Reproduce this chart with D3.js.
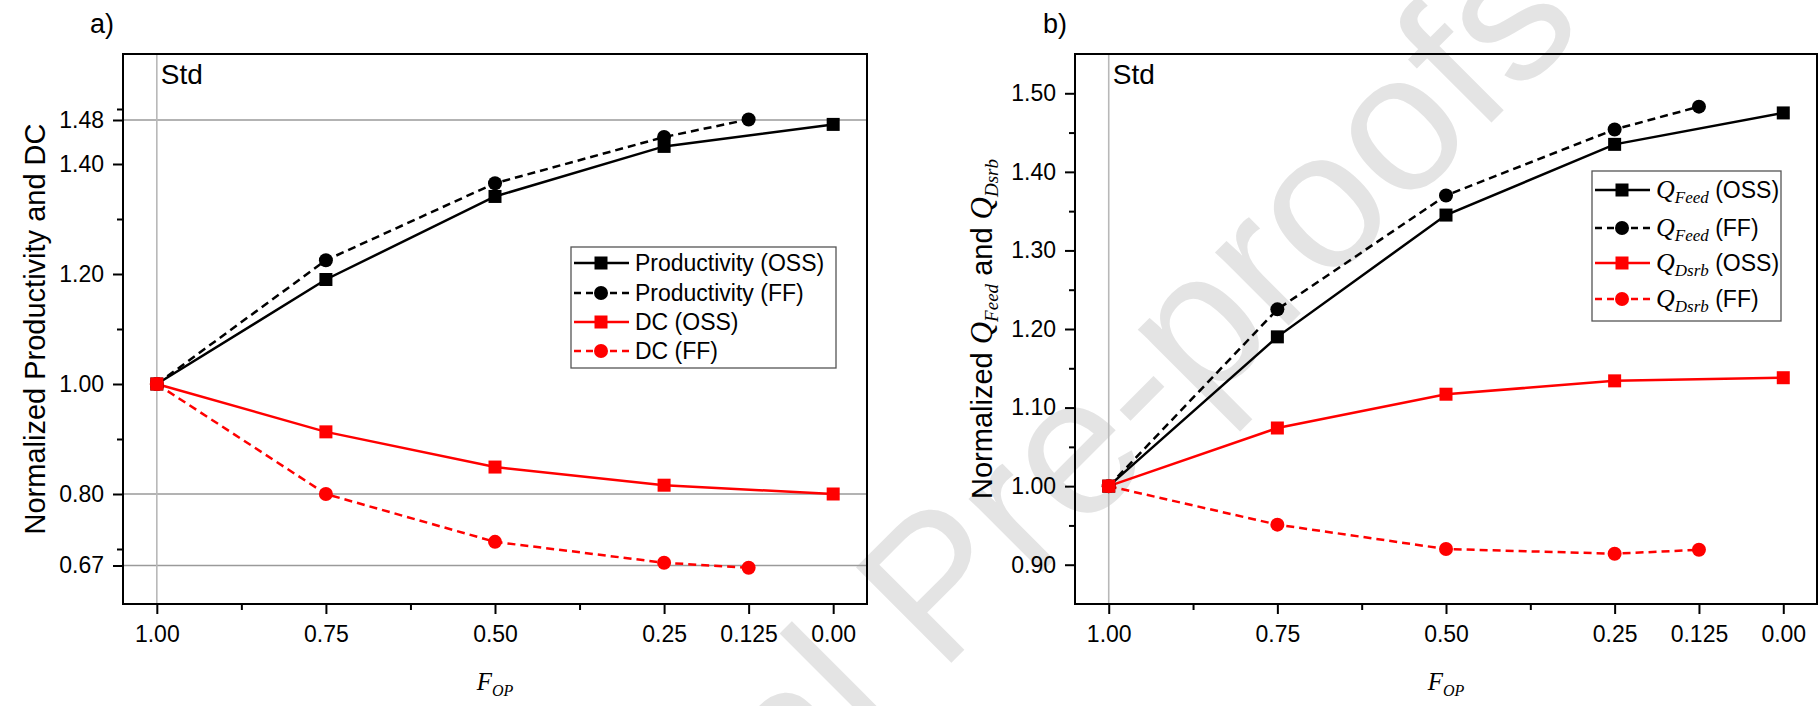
<!DOCTYPE html>
<html>
<head>
<meta charset="utf-8">
<script src="https://cdn.jsdelivr.net/npm/d3@7"></script>
<style>
  html, body { margin: 0; padding: 0; background: #fff; }
  svg { display: block; }
  text { font-family: "Liberation Sans", Arial, sans-serif; fill: #000; }
  .serif { font-family: "Liberation Serif", "Times New Roman", serif; font-style: italic; }
</style>
</head>
<body>
<svg id="chart" width="1818" height="706"></svg>
<script>
// ---- data ----
const fOpOSS = [1.00, 0.75, 0.50, 0.25, 0.00];
const fOpFF  = [1.00, 0.75, 0.50, 0.25, 0.125];

// panel a: normalized productivity and desorbent consumption
const prodOSS = [1.00, 1.190, 1.341, 1.432, 1.472];
const prodFF  = [1.00, 1.225, 1.365, 1.449, 1.481];
const dcOSS   = [1.00, 0.913, 0.849, 0.816, 0.800];
const dcFF    = [1.00, 0.800, 0.713, 0.675, 0.666];

// panel b: normalized feed and desorbent flow rates
const feedOSS = [1.00, 1.190, 1.345, 1.435, 1.475];
const feedFF  = [1.00, 1.225, 1.370, 1.454, 1.483];
const dsrbOSS = [1.00, 1.074, 1.117, 1.134, 1.138];
const dsrbFF  = [1.00, 0.951, 0.920, 0.914, 0.919];

// axis ticks
const xMajor = [1.00, 0.75, 0.50, 0.25, 0.125, 0.00];
const xTickLabels = ["1.00", "0.75", "0.50", "0.25", "0.125", "0.00"];
const xMinor = [0.875, 0.625, 0.375];
const yMajorA = [0.67, 0.80, 1.00, 1.20, 1.40, 1.48];
const yMinorA = [0.70, 0.90, 1.10, 1.30, 1.50];
const yGridA = [0.67, 0.80, 1.48];
const yMajorB = [0.90, 1.00, 1.10, 1.20, 1.30, 1.40, 1.50];
const yMinorB = [0.95, 1.05, 1.15, 1.25, 1.35, 1.45];

const RED = "#ff0000", BLACK = "#000000";
const svg = d3.select("#chart");

// ---- background watermark ----
svg.append("text")
  .attr("transform", "translate(447,1167) rotate(-45)")
  .style("font-size", "196px")
  .style("fill", "#e4e4e4")
  .text("Journal Pre-proofs");

function serie(xs, ys, color, dashed, marker, label) {
  return { pts: xs.map((x, i) => [x, ys[i]]), color, dashed, marker, label };
}

function drawPanel(cfg) {
  const g = svg.append("g");
  const x = d3.scaleLinear().domain([1.05, -0.05]).range([cfg.left, cfg.right]);
  const y = d3.scaleLinear().domain(cfg.yDomain).range([cfg.bottom, cfg.top]);

  // grid lines
  g.selectAll("line.hgrid").data(cfg.yGrid).join("line")
    .attr("x1", cfg.left).attr("x2", cfg.right)
    .attr("y1", d => y(d)).attr("y2", d => y(d))
    .attr("stroke", "#9a9a9a").attr("stroke-width", 1.3);
  g.append("line")
    .attr("x1", x(1)).attr("x2", x(1))
    .attr("y1", cfg.top).attr("y2", cfg.bottom)
    .attr("stroke", "#b8b8b8").attr("stroke-width", 1.6);

  // series lines and markers
  const line = d3.line().x(d => x(d[0])).y(d => y(d[1]));
  cfg.series.forEach(s => {
    g.append("path").attr("d", line(s.pts))
      .attr("fill", "none").attr("stroke", s.color).attr("stroke-width", 2.5)
      .attr("stroke-dasharray", s.dashed ? "8,5" : null);
  });
  cfg.series.forEach(s => {
    s.pts.forEach(p => drawMarker(g, x(p[0]), y(p[1]), s.marker, s.color));
  });

  // frame
  g.append("rect")
    .attr("x", cfg.left).attr("y", cfg.top)
    .attr("width", cfg.right - cfg.left).attr("height", cfg.bottom - cfg.top)
    .attr("fill", "none").attr("stroke", "#000").attr("stroke-width", 2);

  // x axis
  const xa = g.append("g").attr("transform", `translate(0,${cfg.bottom})`)
    .call(d3.axisBottom(x).tickValues(xMajor).tickSize(10).tickPadding(12)
      .tickFormat((d, i) => xTickLabels[i]));
  const xm = g.append("g").attr("transform", `translate(0,${cfg.bottom})`)
    .call(d3.axisBottom(x).tickValues(xMinor).tickSize(6).tickFormat(""));
  // y axis
  const ya = g.append("g").attr("transform", `translate(${cfg.left},0)`)
    .call(d3.axisLeft(y).tickValues(cfg.yMajor).tickSize(10).tickPadding(9)
      .tickFormat(d3.format(".2f")));
  const ym = g.append("g").attr("transform", `translate(${cfg.left},0)`)
    .call(d3.axisLeft(y).tickValues(cfg.yMinor).tickSize(6).tickFormat(""));
  [xa, xm, ya, ym].forEach(a => {
    a.select(".domain").remove();
    a.selectAll(".tick line").attr("stroke", "#000").attr("stroke-width", 2);
    a.selectAll(".tick text").style("font-size", "23px")
      .style("font-family", "'Liberation Sans', Arial, sans-serif").attr("fill", "#000");
  });

  // panel letter and Std marker
  g.append("text").attr("x", cfg.letterX).attr("y", 33).style("font-size", "27px").text(cfg.letter);
  g.append("text").attr("x", x(1) + 4).attr("y", 84).style("font-size", "28px").text("Std");

  // x axis title
  const xt = g.append("text").attr("x", x(0.5)).attr("y", 690)
    .attr("text-anchor", "middle").attr("class", "serif");
  xt.append("tspan").style("font-size", "25px").text("F");
  xt.append("tspan").style("font-size", "16px").attr("dy", 6).text("OP");

  // y axis title
  const yt = g.append("text")
    .attr("transform", `translate(${cfg.yTitleX},${(cfg.top + cfg.bottom) / 2}) rotate(-90)`)
    .attr("text-anchor", "middle").style("font-size", "29px");
  cfg.yTitle(yt);

  // legend
  const L = cfg.legend;
  g.append("rect").attr("x", L.x).attr("y", L.y).attr("width", L.w).attr("height", L.h)
    .attr("fill", "#fff").attr("stroke", "#555").attr("stroke-width", 1.3);
  cfg.series.forEach((s, i) => {
    const ry = L.rows[i];
    g.append("line").attr("x1", L.x + 3).attr("x2", L.x + 58).attr("y1", ry).attr("y2", ry)
      .attr("stroke", s.color).attr("stroke-width", 2.5)
      .attr("stroke-dasharray", s.dashed ? "7,5" : null);
    drawMarker(g, L.x + 30, ry, s.marker, s.color);
    const t = g.append("text").attr("x", L.x + 64).attr("y", ry + 8).style("font-size", "23px");
    s.label(t);
  });
}

function drawMarker(g, cx, cy, kind, color) {
  if (kind === "square") {
    g.append("rect").attr("x", cx - 6.5).attr("y", cy - 6.5).attr("width", 13).attr("height", 13)
      .attr("fill", color);
  } else {
    g.append("circle").attr("cx", cx).attr("cy", cy).attr("r", 7).attr("fill", color);
  }
}

function plainLabel(str) { return t => t.text(str); }
function qLabel(sub, rest) {
  return t => {
    t.append("tspan").attr("class", "serif").style("font-size", "26px").text("Q");
    t.append("tspan").attr("class", "serif").style("font-size", "17px").attr("dy", 5).text(sub);
    t.append("tspan").attr("dy", -5).text(" " + rest);
  };
}

drawPanel({
  left: 123, right: 867, top: 54, bottom: 604,
  yDomain: [0.6, 1.6], yMajor: yMajorA, yMinor: yMinorA, yGrid: yGridA,
  letter: "a)", letterX: 90, yTitleX: 45,
  yTitle: t => t.text("Normalized Productivity and DC"),
  series: [
    serie(fOpOSS, prodOSS, BLACK, false, "square", plainLabel("Productivity (OSS)")),
    serie(fOpFF, prodFF, BLACK, true, "circle", plainLabel("Productivity (FF)")),
    serie(fOpOSS, dcOSS, RED, false, "square", plainLabel("DC (OSS)")),
    serie(fOpFF, dcFF, RED, true, "circle", plainLabel("DC (FF)"))
  ],
  legend: { x: 571, y: 247, w: 265, h: 121, rows: [263, 293, 322, 351] }
});

drawPanel({
  left: 1075, right: 1817, top: 54, bottom: 604,
  yDomain: [0.85, 1.55], yMajor: yMajorB, yMinor: yMinorB, yGrid: [],
  letter: "b)", letterX: 1043, yTitleX: 992,
  yTitle: t => {
    t.append("tspan").text("Normalized ");
    t.append("tspan").attr("class", "serif").style("font-size", "31px").text("Q");
    t.append("tspan").attr("class", "serif").style("font-size", "19px").attr("dy", 6).text("Feed");
    t.append("tspan").attr("dy", -6).text(" and ");
    t.append("tspan").attr("class", "serif").style("font-size", "31px").text("Q");
    t.append("tspan").attr("class", "serif").style("font-size", "19px").attr("dy", 6).text("Dsrb");
  },
  series: [
    serie(fOpOSS, feedOSS, BLACK, false, "square", qLabel("Feed", "(OSS)")),
    serie(fOpFF, feedFF, BLACK, true, "circle", qLabel("Feed", "(FF)")),
    serie(fOpOSS, dsrbOSS, RED, false, "square", qLabel("Dsrb", "(OSS)")),
    serie(fOpFF, dsrbFF, RED, true, "circle", qLabel("Dsrb", "(FF)"))
  ],
  legend: { x: 1592, y: 171, w: 189, h: 150, rows: [190, 228, 263, 299] }
});
</script>
</body>
</html>
